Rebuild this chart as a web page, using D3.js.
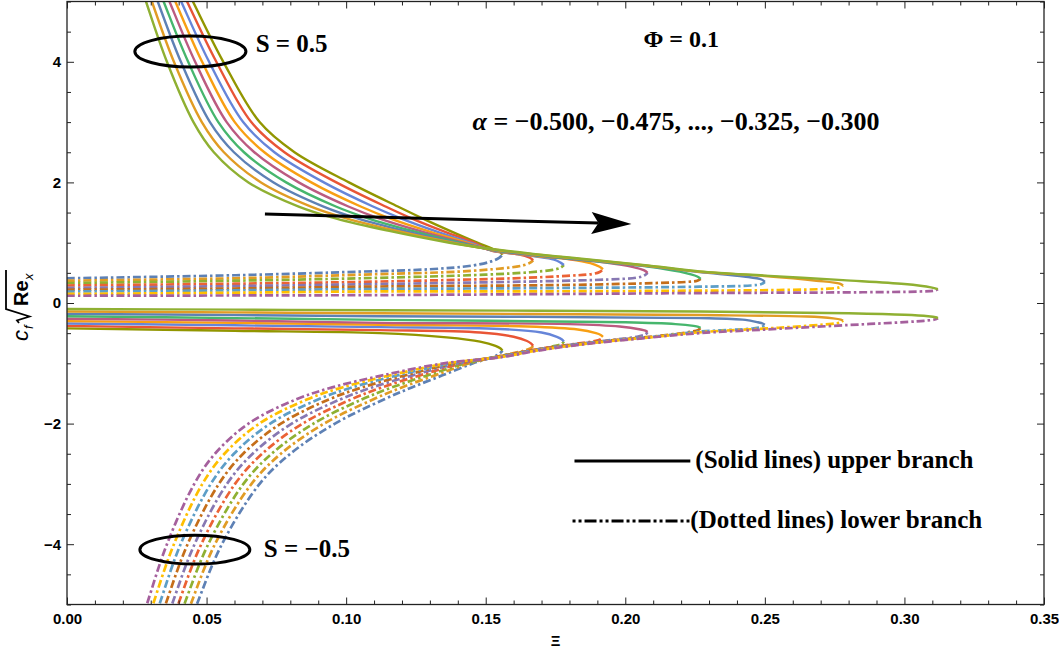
<!DOCTYPE html>
<html>
<head>
<meta charset="utf-8">
<script src="https://cdn.jsdelivr.net/npm/d3@7"></script>
<style>
  body { margin: 0; background: #fff; }
  svg { display: block; }
</style>
</head>
<body>
<svg id="chart" width="1059" height="656"></svg>
<script>
// ---- axis ticks ----
const xTicks = [0.00, 0.05, 0.10, 0.15, 0.20, 0.25, 0.30, 0.35];
const yTicks = [-4, -2, 0, 2, 4];

// ---- parameter family ----
const alphaValues = [-0.500, -0.475, -0.450, -0.425, -0.400, -0.375, -0.350, -0.325, -0.300];

// Mathematica-style palette: lower branches use colours 1-9, upper branches 10-18
const lowerColors = ["#5E81B5", "#E19C24", "#8FB032", "#EB6235", "#8778B3", "#C56E1A", "#5D9EC7", "#FFBF00", "#A5609D"];
const upperColors = ["#929600", "#E95536", "#6685D9", "#F89F13", "#BC5B80", "#47B66D", "#5E81B5", "#E19C24", "#8FB032"];

// ---- S = 0.5, upper branch (solid) ----
// steep part: Xi at fixed levels of c_f sqrt(Re_x)
const posTopLevels = [5.5, 5, 4, 3, 2.5, 2, 1.6, 1.4, 1.2, 1.0];
const posTopXi = [
  [0.0398, 0.0451, 0.0560, 0.0690, 0.0815, 0.1010, 0.1185, 0.1275, 0.1370, 0.1470],
  [0.0379, 0.0430, 0.0535, 0.0660, 0.0779, 0.0965, 0.1141, 0.1236, 0.1343, 0.1458],
  [0.0361, 0.0409, 0.0509, 0.0631, 0.0743, 0.0920, 0.1096, 0.1198, 0.1315, 0.1445],
  [0.0342, 0.0388, 0.0484, 0.0601, 0.0707, 0.0875, 0.1052, 0.1159, 0.1288, 0.1433],
  [0.0323, 0.0367, 0.0459, 0.0572, 0.0671, 0.0830, 0.1008, 0.1120, 0.1260, 0.1420],
  [0.0304, 0.0346, 0.0434, 0.0542, 0.0634, 0.0785, 0.0963, 0.1081, 0.1233, 0.1408],
  [0.0286, 0.0325, 0.0408, 0.0512, 0.0598, 0.0740, 0.0919, 0.1043, 0.1205, 0.1395],
  [0.0267, 0.0304, 0.0383, 0.0483, 0.0562, 0.0695, 0.0874, 0.1004, 0.1178, 0.1383],
  [0.0248, 0.0283, 0.0358, 0.0453, 0.0526, 0.0650, 0.0830, 0.0965, 0.1150, 0.1370]
];
// flat part running out to the turning point
const posUpperTail = [
  [[0.1525, 0.90], [0.1553, 0.84], [0.156, 0.80]],
  [[0.152, 0.868], [0.1615, 0.81], [0.1658, 0.75], [0.167, 0.71]],
  [[0.152, 0.872], [0.167, 0.778], [0.1745, 0.72], [0.1768, 0.67], [0.178, 0.63]],
  [[0.152, 0.876], [0.167, 0.784], [0.180, 0.724], [0.1875, 0.66], [0.1908, 0.60], [0.192, 0.56]],
  [[0.152, 0.880], [0.167, 0.790], [0.180, 0.730], [0.193, 0.670], [0.2025, 0.60], [0.2068, 0.54], [0.208, 0.50]],
  [[0.152, 0.884], [0.167, 0.796], [0.180, 0.736], [0.193, 0.676], [0.208, 0.606], [0.2195, 0.52], [0.2258, 0.44], [0.227, 0.40]],
  [[0.152, 0.888], [0.167, 0.802], [0.180, 0.742], [0.193, 0.682], [0.208, 0.612], [0.2266, 0.512], [0.2425, 0.44], [0.2488, 0.39], [0.250, 0.35]],
  [[0.152, 0.892], [0.167, 0.808], [0.180, 0.748], [0.193, 0.688], [0.208, 0.618], [0.2266, 0.518], [0.250, 0.448], [0.2685, 0.37], [0.2768, 0.32], [0.278, 0.29]],
  [[0.152, 0.896], [0.167, 0.814], [0.180, 0.754], [0.193, 0.694], [0.208, 0.624], [0.2266, 0.524], [0.250, 0.454], [0.278, 0.379], [0.300, 0.314], [0.3095, 0.26], [0.312, 0.23]]
];

// ---- S = 0.5, lower branch (dash-dot), from the turning point back to Xi = 0 ----
const posLower = [
  [[0.156, 0.80], [0.1548, 0.75], [0.152, 0.69], [0.145, 0.62], [0.130, 0.56], [0.105, 0.52], [0.06, 0.46], [0, 0.41]],
  [[0.167, 0.71], [0.1658, 0.665], [0.163, 0.62], [0.156, 0.575], [0.140, 0.52], [0.105, 0.47], [0.06, 0.41], [0, 0.37]],
  [[0.178, 0.63], [0.1768, 0.585], [0.174, 0.55], [0.166, 0.51], [0.150, 0.47], [0.105, 0.41], [0.06, 0.37], [0, 0.33]],
  [[0.192, 0.56], [0.1908, 0.515], [0.188, 0.48], [0.179, 0.45], [0.160, 0.41], [0.105, 0.35], [0.06, 0.32], [0, 0.29]],
  [[0.208, 0.50], [0.2068, 0.455], [0.204, 0.42], [0.194, 0.39], [0.170, 0.36], [0.105, 0.31], [0.06, 0.28], [0, 0.25]],
  [[0.227, 0.40], [0.2258, 0.37], [0.222, 0.35], [0.210, 0.33], [0.180, 0.30], [0.105, 0.27], [0.06, 0.24], [0, 0.22]],
  [[0.250, 0.35], [0.2488, 0.315], [0.245, 0.29], [0.2266, 0.27], [0.180, 0.25], [0.105, 0.23], [0.06, 0.21], [0, 0.19]],
  [[0.278, 0.29], [0.2768, 0.26], [0.272, 0.235], [0.255, 0.215], [0.2266, 0.205], [0.180, 0.195], [0.105, 0.19], [0.06, 0.17], [0, 0.15]],
  [[0.312, 0.23], [0.3108, 0.205], [0.305, 0.19], [0.285, 0.178], [0.2266, 0.165], [0.180, 0.15], [0.105, 0.13], [0.06, 0.125], [0, 0.12]]
];

// ---- S = -0.5, upper branch (solid), from Xi = 0 out to the turning point ----
const negUpper = [
  [[0, -0.42], [0.06, -0.46], [0.112, -0.50], [0.136, -0.57], [0.148, -0.64], [0.1535, -0.71], [0.1552, -0.75], [0.156, -0.79]],
  [[0, -0.38], [0.06, -0.42], [0.112, -0.45], [0.148, -0.49], [0.160, -0.56], [0.1648, -0.63], [0.1662, -0.67], [0.167, -0.71]],
  [[0, -0.34], [0.06, -0.37], [0.112, -0.40], [0.155, -0.43], [0.170, -0.49], [0.1755, -0.56], [0.1772, -0.60], [0.178, -0.64]],
  [[0, -0.30], [0.06, -0.33], [0.112, -0.36], [0.165, -0.39], [0.183, -0.44], [0.1895, -0.50], [0.1912, -0.53], [0.192, -0.56]],
  [[0, -0.26], [0.06, -0.29], [0.112, -0.33], [0.180, -0.35], [0.198, -0.39], [0.2055, -0.44], [0.2072, -0.46], [0.208, -0.48]],
  [[0, -0.22], [0.06, -0.25], [0.112, -0.28], [0.200, -0.32], [0.218, -0.35], [0.2245, -0.38], [0.2262, -0.395], [0.227, -0.41]],
  [[0, -0.18], [0.06, -0.20], [0.112, -0.22], [0.2266, -0.25], [0.243, -0.28], [0.2475, -0.32], [0.2492, -0.34], [0.250, -0.36]],
  [[0, -0.14], [0.06, -0.155], [0.112, -0.17], [0.2266, -0.20], [0.265, -0.225], [0.2745, -0.255], [0.2772, -0.275], [0.278, -0.29]],
  [[0, -0.10], [0.06, -0.11], [0.112, -0.12], [0.2266, -0.14], [0.280, -0.17], [0.300, -0.195], [0.3085, -0.22], [0.3112, -0.237], [0.312, -0.25]]
];

// ---- S = -0.5, lower branch (dash-dot), from the turning point down ----
const negLowerHead = [
  [[0.156, -0.79], [0.1552, -0.83], [0.153, -0.89]],
  [[0.167, -0.71], [0.1662, -0.75], [0.163, -0.80], [0.156, -0.868]],
  [[0.178, -0.64], [0.1772, -0.68], [0.174, -0.72], [0.166, -0.79], [0.156, -0.872]],
  [[0.192, -0.56], [0.1912, -0.60], [0.188, -0.64], [0.180, -0.69], [0.168, -0.77], [0.156, -0.876]],
  [[0.208, -0.48], [0.2072, -0.52], [0.204, -0.56], [0.195, -0.615], [0.180, -0.695], [0.168, -0.775], [0.156, -0.88]],
  [[0.227, -0.41], [0.2262, -0.445], [0.223, -0.48], [0.212, -0.545], [0.195, -0.62], [0.180, -0.70], [0.168, -0.78], [0.156, -0.884]],
  [[0.250, -0.36], [0.2492, -0.39], [0.246, -0.42], [0.2266, -0.475], [0.212, -0.55], [0.195, -0.625], [0.180, -0.705], [0.168, -0.785], [0.156, -0.888]],
  [[0.278, -0.29], [0.2772, -0.32], [0.274, -0.345], [0.255, -0.41], [0.2266, -0.485], [0.212, -0.555], [0.195, -0.63], [0.180, -0.71], [0.168, -0.79], [0.156, -0.892]],
  [[0.312, -0.25], [0.3112, -0.27], [0.307, -0.295], [0.274, -0.38], [0.250, -0.44], [0.2266, -0.50], [0.212, -0.56], [0.195, -0.635], [0.180, -0.715], [0.168, -0.795], [0.156, -0.896]]
];
const negLowerLevels = [-1.0, -1.2, -1.4, -1.6, -2.0, -2.5, -3.0, -4.0, -5.0, -5.5];
const negLowerXi = [
  [0.1455, 0.1345, 0.1235, 0.1135, 0.0960, 0.0800, 0.0690, 0.0555, 0.0465, 0.0425],
  [0.1442, 0.1318, 0.1199, 0.1096, 0.0921, 0.0766, 0.0661, 0.0530, 0.0443, 0.0403],
  [0.1429, 0.1291, 0.1164, 0.1056, 0.0883, 0.0733, 0.0632, 0.0506, 0.0420, 0.0382],
  [0.1416, 0.1264, 0.1128, 0.1017, 0.0844, 0.0699, 0.0602, 0.0481, 0.0398, 0.0360],
  [0.1403, 0.1238, 0.1093, 0.0978, 0.0805, 0.0665, 0.0573, 0.0457, 0.0376, 0.0339],
  [0.1389, 0.1211, 0.1057, 0.0938, 0.0766, 0.0631, 0.0544, 0.0432, 0.0353, 0.0317],
  [0.1376, 0.1184, 0.1021, 0.0899, 0.0728, 0.0598, 0.0515, 0.0407, 0.0331, 0.0295],
  [0.1363, 0.1157, 0.0986, 0.0859, 0.0689, 0.0564, 0.0485, 0.0383, 0.0308, 0.0274],
  [0.1350, 0.1130, 0.0950, 0.0820, 0.0650, 0.0530, 0.0456, 0.0358, 0.0286, 0.0252]
];

// ---- assemble curves (every path ordered by increasing Xi) ----
const posUpper = posTopXi.map((row, i) =>
  row.map((xi, k) => [xi, posTopLevels[k]]).concat(posUpperTail[i]));
const negLower = negLowerXi.map((row, i) =>
  negLowerHead[i].concat(row.map((xi, k) => [xi, negLowerLevels[k]])).reverse());
const posLowerInc = posLower.map(pts => pts.slice().reverse());

// ---- layout ----
const svg = d3.select("#chart");
const x = d3.scaleLinear().domain([0, 0.35]).range([67, 1044]);
const y = d3.scaleLinear().domain([-5, 5]).range([604.5, 1.5]);

const sansBold = "'Liberation Sans', Arial, Helvetica, sans-serif";
const serif = "'Liberation Serif', 'Times New Roman', Times, serif";

svg.append("defs").append("clipPath").attr("id", "plotClip")
  .append("rect")
  .attr("x", x(0)).attr("y", y(5))
  .attr("width", x(0.35) - x(0)).attr("height", y(-5) - y(5));

const line = d3.line()
  .x(d => x(d[0])).y(d => y(d[1]))
  .curve(d3.curveCatmullRom.alpha(0.5));

const plot = svg.append("g").attr("clip-path", "url(#plotClip)");
const dashPattern = "8,3,2.5,3";

// lower branches (dash-dot) first
const drawDashed = (set) => set.forEach((pts, i) => {
  plot.append("path")
    .attr("d", line(pts))
    .attr("fill", "none")
    .attr("stroke", lowerColors[i])
    .attr("stroke-width", 2.7)
    .attr("stroke-dasharray", dashPattern);
});
drawDashed(posLowerInc);
drawDashed(negLower);

// upper branches (solid)
const drawSolid = (set) => set.forEach((pts, i) => {
  plot.append("path")
    .attr("d", line(pts))
    .attr("fill", "none")
    .attr("stroke", upperColors[i])
    .attr("stroke-width", 2.4);
});
drawSolid(posUpper);
drawSolid(negUpper);

// ---- frame and ticks ----
const xMinor = d3.range(0, 36).map(k => k / 100).filter(v => Math.round(v * 100) % 5 !== 0);
const yMinor = d3.range(-10, 11).map(k => k / 2).filter(v => Math.abs(v % 2) !== 0);

function styleAxis(g, withLabels) {
  g.select(".domain").remove();
  g.selectAll(".tick line").attr("stroke", "#222").attr("stroke-width", 1);
  g.selectAll(".tick text")
    .attr("fill", withLabels ? "#000" : "none")
    .style("font-family", sansBold)
    .style("font-weight", "bold")
    .style("font-size", "15px");
}

const axisLayer = svg.append("g");
// bottom
axisLayer.append("g").attr("transform", `translate(0,${y(-5)})`)
  .call(d3.axisBottom(x).tickValues(xTicks).tickSize(-7).tickPadding(9).tickFormat(d3.format(".2f")))
  .call(g => styleAxis(g, true));
axisLayer.append("g").attr("transform", `translate(0,${y(-5)})`)
  .call(d3.axisBottom(x).tickValues(xMinor).tickSize(-4).tickFormat(""))
  .call(g => styleAxis(g, false));
// top
axisLayer.append("g").attr("transform", `translate(0,${y(5)})`)
  .call(d3.axisTop(x).tickValues(xTicks).tickSize(-7).tickFormat(""))
  .call(g => styleAxis(g, false));
axisLayer.append("g").attr("transform", `translate(0,${y(5)})`)
  .call(d3.axisTop(x).tickValues(xMinor).tickSize(-4).tickFormat(""))
  .call(g => styleAxis(g, false));
// left
axisLayer.append("g").attr("transform", `translate(${x(0)},0)`)
  .call(d3.axisLeft(y).tickValues(yTicks).tickSize(-7).tickPadding(6).tickFormat(d3.format("d")))
  .call(g => styleAxis(g, true));
axisLayer.append("g").attr("transform", `translate(${x(0)},0)`)
  .call(d3.axisLeft(y).tickValues(yMinor).tickSize(-4).tickFormat(""))
  .call(g => styleAxis(g, false));
// right
axisLayer.append("g").attr("transform", `translate(${x(0.35)},0)`)
  .call(d3.axisRight(y).tickValues(yTicks).tickSize(-7).tickFormat(""))
  .call(g => styleAxis(g, false));
axisLayer.append("g").attr("transform", `translate(${x(0.35)},0)`)
  .call(d3.axisRight(y).tickValues(yMinor).tickSize(-4).tickFormat(""))
  .call(g => styleAxis(g, false));

axisLayer.append("rect")
  .attr("x", x(0)).attr("y", y(5))
  .attr("width", x(0.35) - x(0)).attr("height", y(-5) - y(5))
  .attr("fill", "none").attr("stroke", "#222").attr("stroke-width", 1.3);

// x-axis title
svg.append("text")
  .attr("x", (x(0) + x(0.35)) / 2).attr("y", 646)
  .attr("text-anchor", "middle")
  .style("font-family", sansBold).style("font-weight", "bold").style("font-size", "15px")
  .text("Ξ");

// y-axis title: c_f sqrt(Re_x)
const yt = svg.append("g").attr("transform", "translate(28,304) rotate(-90)");
yt.append("text").attr("x", -37).attr("y", 0)
  .style("font-family", sansBold).style("font-style", "italic").style("font-size", "22px")
  .text("c");
yt.append("text").attr("x", -25).attr("y", 5)
  .style("font-family", sansBold).style("font-style", "italic").style("font-size", "13px")
  .text("f");
yt.append("path")
  .attr("d", "M-19,-9 L-16.5,-11 L-12.5,1.5 L-5,-22 L34,-22")
  .attr("fill", "none").attr("stroke", "#000").attr("stroke-width", 1.8)
  .attr("stroke-linejoin", "miter");
yt.append("text").attr("x", -2).attr("y", 0)
  .style("font-family", sansBold).style("font-weight", "bold").style("font-size", "20px")
  .text("Re");
yt.append("text").attr("x", 24).attr("y", 5)
  .style("font-family", sansBold).style("font-style", "italic").style("font-size", "13px")
  .text("x");

// ---- annotations ----
const ann = svg.append("g");
const annText = (xi, v, str, size) => ann.append("text")
  .attr("x", x(xi)).attr("y", y(v))
  .style("font-family", serif).style("font-weight", "bold").style("font-size", size + "px")
  .text(str);

// branch markers
ann.append("ellipse")
  .attr("cx", x(0.0442)).attr("cy", y(4.17))
  .attr("rx", x(0.0199) - x(0)).attr("ry", y(0) - y(0.257))
  .attr("fill", "none").attr("stroke", "#000").attr("stroke-width", 3);
ann.append("ellipse")
  .attr("cx", x(0.0458)).attr("cy", y(-4.09))
  .attr("rx", x(0.0197) - x(0)).attr("ry", y(0) - y(0.24))
  .attr("fill", "none").attr("stroke", "#000").attr("stroke-width", 3);

annText(0.0676, 4.16, "S = 0.5", 25);
annText(0.0705, -4.21, "S = −0.5", 25);
annText(0.2065, 4.24, "Φ = 0.1", 24);

const alphaFmt = d3.format(".3f");
const alphaLabel = ann.append("text")
  .attr("x", x(0.1453)).attr("y", y(2.87))
  .style("font-family", serif).style("font-weight", "bold").style("font-size", "26px");
alphaLabel.append("tspan").style("font-style", "italic").text("α");
alphaLabel.append("tspan").text(" = " + [alphaValues[0], alphaValues[1]].map(alphaFmt).join(", ")
  + ", ..., " + [alphaValues[7], alphaValues[8]].map(alphaFmt).join(", "));

// direction arrow
{
  const p0 = [x(0.0709), y(1.476)];
  const p1 = [x(0.2022), y(1.31)];
  const dx = p1[0] - p0[0], dy = p1[1] - p0[1];
  const len = Math.hypot(dx, dy);
  const ux = dx / len, uy = dy / len, nx = -uy, ny = ux;
  const headL = 40, headW = 11, notch = 33;
  const back = [p1[0] - ux * headL, p1[1] - uy * headL];
  const mid = [p1[0] - ux * notch, p1[1] - uy * notch];
  ann.append("line")
    .attr("x1", p0[0]).attr("y1", p0[1]).attr("x2", mid[0]).attr("y2", mid[1])
    .attr("stroke", "#000").attr("stroke-width", 3);
  ann.append("path")
    .attr("d", `M${p1[0]},${p1[1]} L${back[0] + nx * headW},${back[1] + ny * headW} L${mid[0]},${mid[1]} L${back[0] - nx * headW},${back[1] - ny * headW} Z`)
    .attr("fill", "#000");
}

// branch legend
ann.append("line")
  .attr("x1", x(0.1818)).attr("x2", x(0.2233)).attr("y1", y(-2.62)).attr("y2", y(-2.62))
  .attr("stroke", "#000").attr("stroke-width", 3);
annText(0.2251, -2.74, "(Solid lines) upper branch", 25);
ann.append("line")
  .attr("x1", x(0.1811)).attr("x2", x(0.2230)).attr("y1", y(-3.615)).attr("y2", y(-3.615))
  .attr("stroke", "#000").attr("stroke-width", 3)
  .attr("stroke-dasharray", "3,3,3,3,12,3");
annText(0.2233, -3.73, "(Dotted lines) lower branch", 25);
</script>
</body>
</html>
